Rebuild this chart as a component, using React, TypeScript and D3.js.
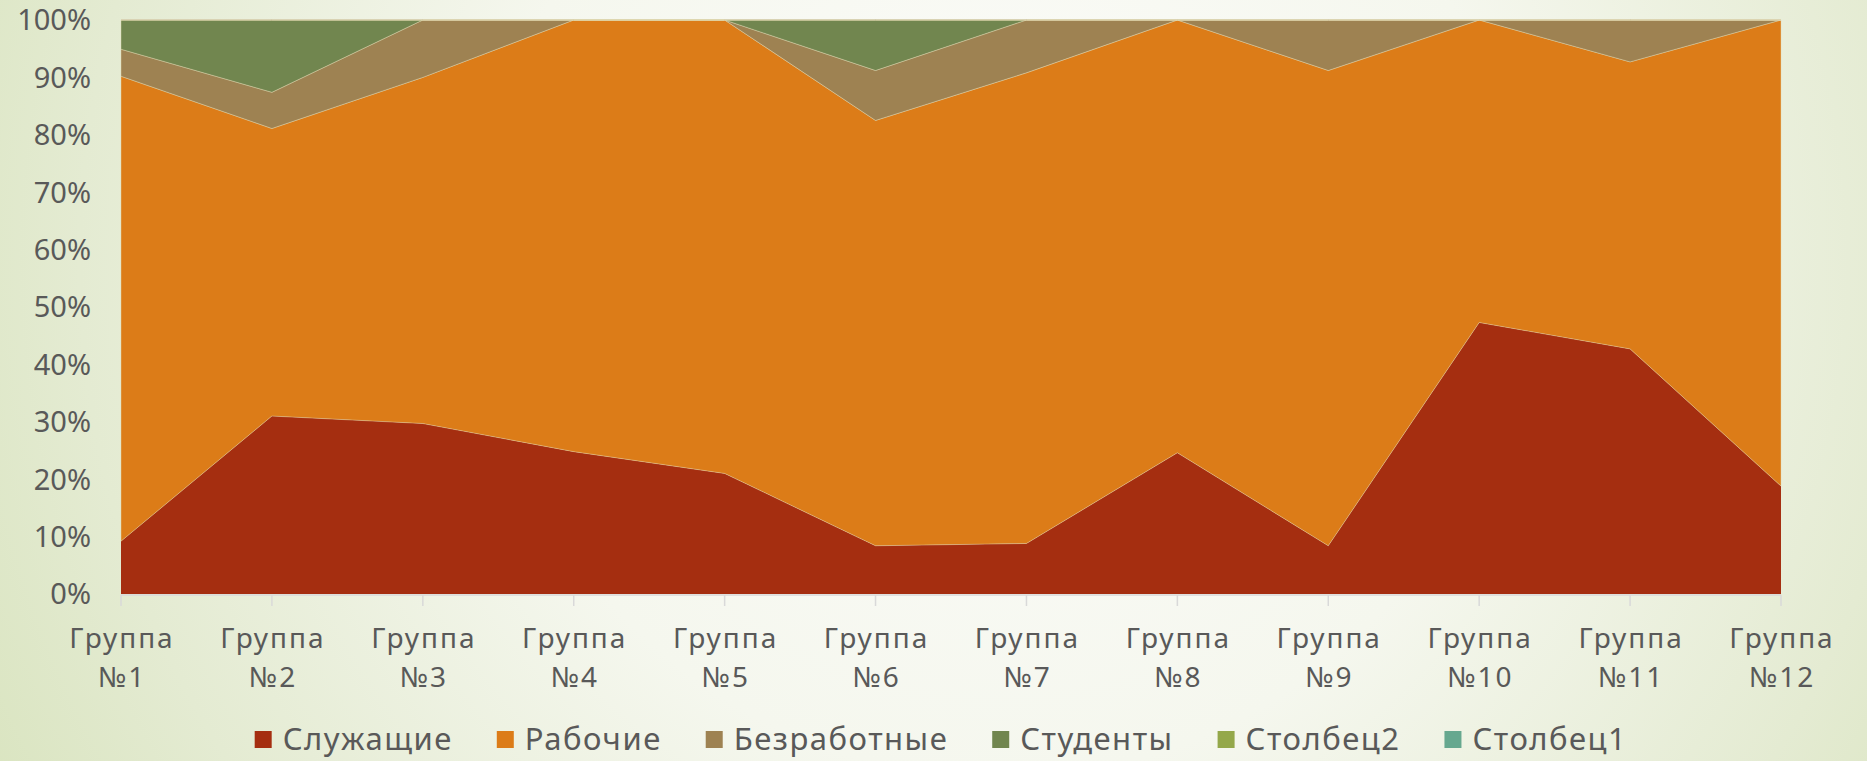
import React, { useEffect, useRef } from 'react'
import * as d3 from 'd3'

// категории и доли (в %)
const groups = ['Группа №1', 'Группа №2', 'Группа №3', 'Группа №4', 'Группа №5', 'Группа №6',
  'Группа №7', 'Группа №8', 'Группа №9', 'Группа №10', 'Группа №11', 'Группа №12']
const seriesNames = ['Служащие', 'Рабочие', 'Безработные', 'Студенты', 'Столбец2', 'Столбец1']
const seriesColors = ['#A52E10', '#DC7C18', '#9E8252', '#71864F', '#94A84A', '#66A88F']

const employees = [9.2, 31.0, 29.7, 24.8, 21.0, 8.4, 8.8, 24.6, 8.4, 47.3, 42.7, 18.8]
const workers = [81.0, 50.1, 60.3, 75.2, 79.0, 74.1, 82.0, 75.4, 82.8, 52.7, 50.0, 81.2]
const unemployed = [4.7, 6.3, 10.0, 0, 0, 8.7, 9.2, 0, 8.8, 0, 7.3, 0]
const students = [5.1, 12.6, 0, 0, 0, 8.8, 0, 0, 0, 0, 0, 0]
const column2 = [0, 0, 0, 0, 0, 0, 0, 0, 0, 0, 0, 0]
const column1 = [0, 0, 0, 0, 0, 0, 0, 0, 0, 0, 0, 0]

const yTicks = [0, 0.1, 0.2, 0.3, 0.4, 0.5, 0.6, 0.7, 0.8, 0.9, 1]

const W = 1867
const H = 761
const FONT = '"Noto Sans", "Open Sans", sans-serif'
const TEXT = '#595959'

export default function App() {
  const ref = useRef<SVGSVGElement | null>(null)

  useEffect(() => {
    const svg = d3.select(ref.current)
    svg.selectAll('*').remove()

    const values = [employees, workers, unemployed, students, column2, column1]
    const rows = groups.map((g, i) => {
      const r: any = { group: g }
      seriesNames.forEach((s, k) => { r[s] = values[k][i] })
      return r
    })
    const stacked = d3.stack<any>().keys(seriesNames).offset(d3.stackOffsetExpand)(rows)

    const margin = { left: 121, right: 86, top: 20, bottom: 167 }
    const x = d3.scalePoint<string>().domain(groups).range([margin.left, W - margin.right])
    const y = d3.scaleLinear().domain([0, 1]).range([H - margin.bottom, margin.top])

    // фон
    const defs = svg.append('defs')
    const grad = defs.append('radialGradient').attr('id', 'bg')
      .attr('gradientUnits', 'userSpaceOnUse')
      .attr('cx', 1000).attr('cy', 260).attr('r', 1150)
    grad.append('stop').attr('offset', '0').attr('stop-color', '#FCFCFA')
    grad.append('stop').attr('offset', '0.45').attr('stop-color', '#F5F7EE')
    grad.append('stop').attr('offset', '0.8').attr('stop-color', '#E4EBD2')
    grad.append('stop').attr('offset', '1').attr('stop-color', '#D9E4BF')
    svg.append('rect').attr('width', W).attr('height', H).attr('fill', 'url(#bg)')

    // сетка
    svg.append('g').selectAll('line').data(yTicks).join('line')
      .attr('x1', margin.left).attr('x2', W - margin.right)
      .attr('y1', d => y(d) - 0.5).attr('y2', d => y(d) - 0.5)
      .attr('stroke', '#C4C4C4').attr('stroke-width', 1.2)

    const area = d3.area<any>()
      .x(d => x(d.data.group) as number)
      .y0(d => y(d[0]))
      .y1(d => y(d[1]))

    svg.append('g').selectAll('path').data(stacked).join('path')
      .attr('d', d => area(d) as string)
      .attr('fill', (_, i) => seriesColors[i])
      .attr('stroke', (_, i) => (i >= 1 ? 'rgba(225,215,175,0.55)' : 'none'))
      .attr('stroke-width', 0.8)

    // ось X
    const base = y(0)
    const xa = svg.append('g')
    xa.append('line').attr('x1', margin.left).attr('x2', W - margin.right)
      .attr('y1', base + 1).attr('y2', base + 1).attr('stroke', '#D9D9D9').attr('stroke-width', 1.5)
    xa.selectAll('line.tick').data(groups).join('line').attr('class', 'tick')
      .attr('x1', d => x(d) as number).attr('x2', d => x(d) as number)
      .attr('y1', base + 1).attr('y2', base + 12)
      .attr('stroke', '#D9D9D9').attr('stroke-width', 1.5)
    const lines: [string, number, number][] = []
    groups.forEach(g => {
      const [a, b] = g.split(' ')
      lines.push([a, x(g) as number, 648])
      lines.push([b, x(g) as number, 687])
    })
    xa.selectAll('text').data(lines).join('text')
      .attr('x', d => d[1] + 1).attr('y', d => d[2])
      .attr('text-anchor', 'middle')
      .attr('font-family', FONT).attr('font-size', 28).attr('letter-spacing', 2)
      .attr('fill', TEXT)
      .text(d => d[0])

    // ось Y
    svg.append('g').selectAll('text').data(yTicks).join('text')
      .attr('x', 91).attr('y', d => y(d)).attr('dy', '0.36em')
      .attr('text-anchor', 'end')
      .attr('font-family', FONT).attr('font-size', 29).attr('fill', TEXT)
      .text(d => d3.format('.0%')(d))

    // легенда
    const leg = svg.append('g')
    const items = leg.selectAll('g').data(seriesNames).join('g')
    items.append('rect').attr('width', 17).attr('height', 17).attr('y', 731)
      .attr('fill', (_, i) => seriesColors[i])
    const lt = items.append('text').attr('x', 28).attr('y', 750)
      .attr('font-family', FONT).attr('font-size', 31).attr('letter-spacing', 1.5)
      .attr('fill', TEXT)
      .text(d => d)
    const widths: number[] = []
    lt.each(function () { widths.push((this as SVGTextElement).getComputedTextLength()) })
    const gap = 44
    const total = d3.sum(widths.map(w => 28 + w)) + gap * (widths.length - 1)
    let cx = 941 - total / 2
    items.attr('transform', (_, i) => {
      const t = `translate(${cx},0)`
      cx += 28 + widths[i] + gap
      return t
    })
  }, [])

  return (
    <svg ref={ref} width={W} height={H}
      style={{ position: 'absolute', left: 0, top: 0, display: 'block' }} />
  )
}
